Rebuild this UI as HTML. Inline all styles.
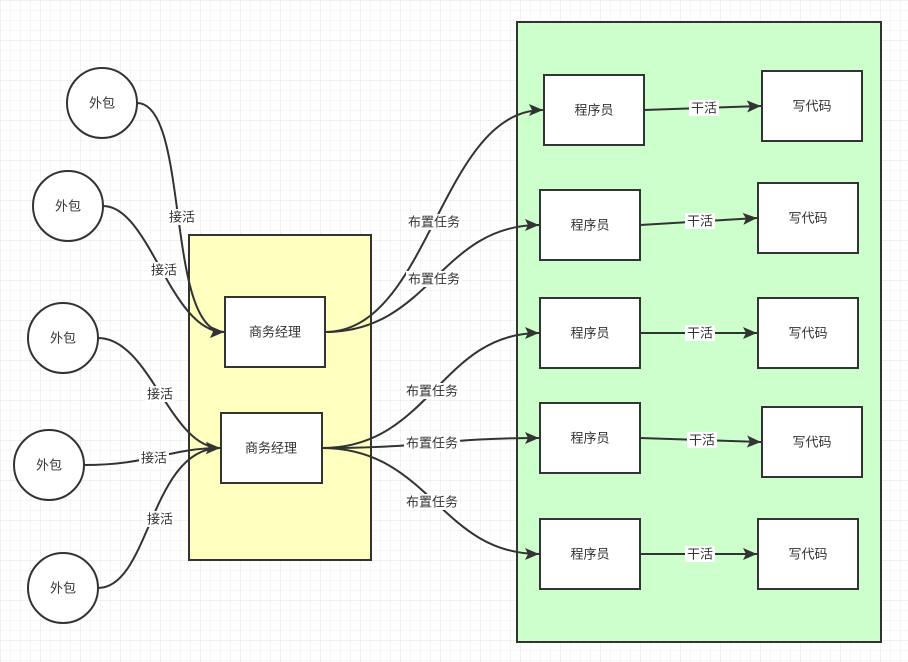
<!DOCTYPE html>
<html><head><meta charset="utf-8"><style>
html,body{margin:0;padding:0;background:#fff}
svg{display:block}
text{font-family:"Liberation Sans","Noto Sans CJK SC",sans-serif;font-size:13px;fill:#333;text-anchor:middle;dominant-baseline:central}
</style></head><body>
<svg width="908" height="662" viewBox="0 0 908 662" xmlns="http://www.w3.org/2000/svg">
<defs>
<pattern id="g" width="10" height="10" patternUnits="userSpaceOnUse"><path d="M10 0H0V10" fill="none" stroke="#ececec" stroke-width="1"/></pattern>
<pattern id="G" width="40" height="40" patternUnits="userSpaceOnUse"><rect width="40" height="40" fill="url(#g)"/><path d="M40 0H0V40" fill="none" stroke="#e0e0e0" stroke-width="1"/></pattern>
<marker id="a" markerWidth="15" markerHeight="12" refX="14" refY="6" orient="auto" markerUnits="userSpaceOnUse"><path d="M0,0 L14,6 L0,12 L3,6 Z" fill="#333"/></marker>
</defs>
<rect width="908" height="662" fill="url(#G)"/>
<rect x="189" y="235" width="182" height="325" fill="#ffffc0" stroke="#333" stroke-width="2"/>
<rect x="517" y="22" width="364" height="620" fill="#ccffcc" stroke="#333" stroke-width="2"/>
<g fill="none" stroke="#333" stroke-width="2" marker-end="url(#a)">
<path d="M137,103 C190,103 165,332 224,332"/>
<path d="M103,206 C150,206 170,332 224,332"/>
<path d="M98,338 C150,338 170,448 220,448"/>
<path d="M84,465 C150,465 170,448 220,448"/>
<path d="M98,588 C150,588 150,448 220,448"/>
<path d="M325,332 C430,332 440,110 543,110"/>
<path d="M325,332 C430,332 440,225 539,225"/>
<path d="M322,448 C430,448 440,333 539,333"/>
<path d="M322,448 C430,448 440,438 539,438"/>
<path d="M322,448 C430,448 440,554 539,554"/>
<path d="M644,110 L761,106"/>
<path d="M640,225 L757,218"/>
<path d="M640,333 L757,333"/>
<path d="M640,438 L761,442"/>
<path d="M640,554 L757,554"/>
</g>
<g fill="#fff" stroke="#333" stroke-width="2">
<circle cx="102" cy="103" r="35"/><circle cx="68" cy="206" r="35"/><circle cx="63" cy="338" r="35"/><circle cx="49" cy="465" r="35"/><circle cx="63" cy="588" r="35"/>
<rect x="225" y="297" width="100" height="70"/><rect x="221" y="413" width="101" height="70"/>
<rect x="544" y="75" width="100" height="70"/><rect x="540" y="190" width="100" height="70"/><rect x="540" y="298" width="100" height="70"/><rect x="540" y="403" width="100" height="70"/><rect x="540" y="519" width="100" height="70"/>
<rect x="762" y="71" width="100" height="70"/><rect x="758" y="183" width="100" height="70"/><rect x="758" y="298" width="100" height="70"/><rect x="762" y="407" width="100" height="70"/><rect x="758" y="519" width="100" height="70"/>
</g>
<g fill="#fff">
<rect x="167" y="209" width="30" height="16"/><rect x="149" y="262" width="30" height="16"/><rect x="145" y="386" width="30" height="16"/><rect x="139" y="450" width="30" height="16"/><rect x="145" y="511" width="30" height="16"/>
<rect x="406" y="214" width="56" height="16"/><rect x="406" y="271" width="56" height="16"/><rect x="404" y="383" width="56" height="16"/><rect x="404" y="435" width="56" height="16"/><rect x="404" y="494" width="56" height="16"/>
<rect x="689" y="100" width="30" height="16"/><rect x="685" y="213" width="30" height="16"/><rect x="685" y="325" width="30" height="16"/><rect x="687" y="432" width="30" height="16"/><rect x="685" y="546" width="30" height="16"/>
</g>
<text x="102" y="103">外包</text><text x="68" y="206">外包</text><text x="63" y="338">外包</text><text x="49" y="465">外包</text><text x="63" y="588">外包</text>
<text x="275" y="332">商务经理</text><text x="271" y="448">商务经理</text>
<text x="594" y="110">程序员</text><text x="590" y="225">程序员</text><text x="590" y="333">程序员</text><text x="590" y="438">程序员</text><text x="590" y="554">程序员</text>
<text x="812" y="106">写代码</text><text x="808" y="218">写代码</text><text x="808" y="333">写代码</text><text x="812" y="442">写代码</text><text x="808" y="554">写代码</text>
<text x="182" y="217">接活</text><text x="164" y="270">接活</text><text x="160" y="394">接活</text><text x="154" y="458">接活</text><text x="160" y="519">接活</text>
<text x="434" y="222">布置任务</text><text x="434" y="279">布置任务</text><text x="432" y="391">布置任务</text><text x="432" y="443">布置任务</text><text x="432" y="502">布置任务</text>
<text x="704" y="108">干活</text><text x="700" y="221">干活</text><text x="700" y="333">干活</text><text x="702" y="440">干活</text><text x="700" y="554">干活</text>
</svg>
</body></html>
